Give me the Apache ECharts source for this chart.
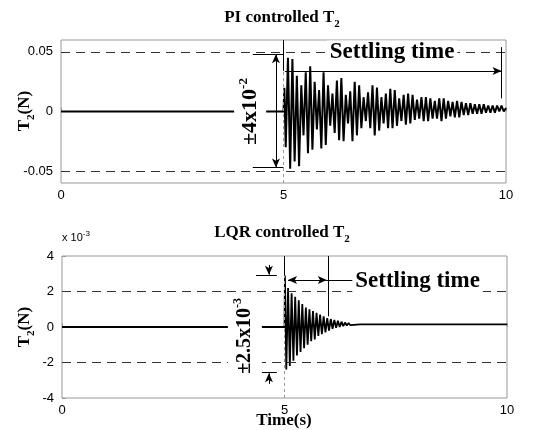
<!DOCTYPE html>
<html>
<head>
<meta charset="utf-8">
<script src="https://cdn.jsdelivr.net/npm/echarts@6/dist/echarts.min.js"></script>
</head>
<body style="margin:0;background:#fff">
<div id="container" style="width:540px;height:430px"></div>
<script>
// tick values
const xTicks = [0, 5, 10];
const piTicks = [-0.05, 0, 0.05];
const lqrTicks = [-4, -2, 0, 2, 4];

// PI controlled T2 (N), peaks
const piSignal = [
  [0, 0], [5.0, 0], [5.02, 0.020], [5.05, -0.030], [5.10, 0.045], [5.15, -0.048], [5.20, 0.044], [5.25, -0.042], [5.30, 0.030], [5.35, -0.046],
  [5.40, 0.022], [5.45, -0.020], [5.50, 0.033], [5.55, -0.035], [5.60, 0.038], [5.65, -0.032], [5.70, 0.025], [5.75, -0.015], [5.80, 0.018], [5.85, -0.031],
  [5.90, 0.033], [5.95, -0.028], [6.00, 0.022], [6.05, -0.012], [6.10, 0.015], [6.15, -0.018], [6.20, 0.026], [6.25, -0.024], [6.30, 0.028], [6.35, -0.025],
  [6.40, 0.014], [6.45, -0.010], [6.50, 0.017], [6.55, -0.025], [6.60, 0.025], [6.65, -0.020], [6.70, 0.022], [6.75, -0.014], [6.80, 0.012], [6.85, -0.008],
  [6.90, 0.016], [6.95, -0.014], [7.00, 0.022], [7.05, -0.020], [7.10, 0.020], [7.15, -0.016], [7.20, 0.012], [7.25, -0.010], [7.30, 0.015], [7.35, -0.014],
  [7.40, 0.019], [7.45, -0.014], [7.50, 0.018], [7.55, -0.012], [7.60, 0.011], [7.65, -0.008], [7.70, 0.014], [7.75, -0.011], [7.80, 0.015], [7.85, -0.010],
  [7.90, 0.014], [7.95, -0.007], [8.00, 0.010], [8.05, -0.006], [8.10, 0.012], [8.15, -0.008], [8.20, 0.012], [8.25, -0.008], [8.30, 0.011], [8.35, -0.006],
  [8.40, 0.009], [8.45, -0.006], [8.50, 0.011], [8.55, -0.008], [8.60, 0.011], [8.65, -0.006], [8.70, 0.009], [8.75, -0.004], [8.80, 0.008], [8.85, -0.005],
  [8.90, 0.009], [8.95, -0.005], [9.00, 0.008], [9.05, -0.003], [9.10, 0.007], [9.15, -0.003], [9.20, 0.007], [9.25, -0.002], [9.30, 0.006], [9.35, -0.002],
  [9.40, 0.006], [9.45, -0.002], [9.50, 0.006], [9.55, -0.001], [9.60, 0.005], [9.65, -0.001], [9.70, 0.005], [9.75, -0.001], [9.80, 0.005], [9.85, 0.000],
  [9.90, 0.005], [9.95, 0.000], [10.0, 0.003]
];

// LQR controlled T2 (x10^-3 N)
const lqrSignal = [
  [0, 0], [5.0, 0], [5.01, 2.9], [5.04, -2.4], [5.08, 2.2], [5.12, -2.2], [5.16, 1.9], [5.20, -1.9], [5.24, 1.7], [5.28, -1.6],
  [5.32, 1.5], [5.36, -1.4], [5.40, 1.3], [5.44, -1.2], [5.48, 1.1], [5.52, -1.0], [5.56, 1.0], [5.60, -0.8], [5.64, 0.9], [5.68, -0.7],
  [5.72, 0.8], [5.76, -0.5], [5.80, 0.7], [5.84, -0.4], [5.88, 0.6], [5.92, -0.3], [5.96, 0.5], [6.00, -0.2], [6.04, 0.45], [6.08, -0.1],
  [6.12, 0.4], [6.16, -0.05], [6.20, 0.35], [6.24, 0.0], [6.28, 0.3], [6.32, 0.05], [6.36, 0.25], [6.40, 0.08], [6.44, 0.22], [6.48, 0.1],
  [6.52, 0.2], [6.56, 0.12], [6.60, 0.18], [6.70, 0.15], [10.0, 0.15]
];

// annotation geometry (data units)
const piBand = 0.05;
const lqrBand = 2;
const piSettle = { start: 5.03, end: 9.9, level: 0.034 };
const lqrSettle = { start: 5.08, end: 5.95, leader: 6.57, level: 2.65, mark: 5.98 };

const serif = 'Liberation Serif';
const sans = 'Liberation Sans';

var dom = document.getElementById('container');
var myChart = echarts.init(dom, null, { renderer: 'canvas' });

function seg(a, b, s0, s1, style) {
  return [
    { coord: a, symbol: s0 || 'none', lineStyle: style },
    { coord: b, symbol: s1 || 'none' }
  ];
}
const solid = { color: '#000', width: 1, type: 'solid' };
const dashed = { color: '#333', width: 1, type: [9, 6] };
const faint = { color: '#999', width: 1, type: [3, 3] };

function yAxisOf(idx, min, max, ticks) {
  return {
    type: 'value', gridIndex: idx, min: min, max: max,
    axisLine: { show: false },
    axisTick: { show: true, inside: true, length: 4, lineStyle: { color: '#999' }, customValues: ticks },
    splitLine: { show: false },
    axisLabel: {
      customValues: ticks, margin: 8, color: '#000', fontFamily: sans, fontSize: 13,
      formatter: v => (Math.abs(v) < 1e-9 ? '0' : String(+v.toFixed(4)))
    }
  };
}
function xAxisOf(idx) {
  return {
    type: 'value', gridIndex: idx, min: 0, max: 10,
    axisLine: { show: false },
    axisTick: { show: true, inside: true, length: 4, lineStyle: { color: '#999' }, customValues: xTicks },
    splitLine: { show: false },
    axisLabel: { customValues: xTicks, margin: 6, color: '#000', fontFamily: sans, fontSize: 13 }
  };
}

option = {
  animation: false,
  grid: [
    { left: 61, right: 34, top: 40, height: 143, show: true, borderColor: '#999', borderWidth: 1 },
    { left: 62, right: 33, top: 256, height: 142, show: true, borderColor: '#999', borderWidth: 1 }
  ],
  xAxis: [xAxisOf(0), xAxisOf(1)],
  yAxis: [yAxisOf(0, -0.06, 0.06, piTicks), yAxisOf(1, -4, 4, lqrTicks)],
  series: [
    {
      type: 'line', xAxisIndex: 0, yAxisIndex: 0, data: piSignal,
      showSymbol: false, silent: true, z: 3,
      lineStyle: { color: '#000', width: 2 },
      markLine: {
        silent: true, symbolSize: [6, 9], label: { show: false }, z: 4,
        data: [
          seg([0, piBand], [10, piBand], 0, 0, dashed),
          seg([0, -piBand], [10, -piBand], 0, 0, dashed),
          seg([5, -0.06], [5, 0.06], 0, 0, faint),
          seg([4.31, 0.048], [5, 0.048], 0, 0, solid),
          seg([4.31, -0.047], [5, -0.047], 0, 0, solid),
          seg([4.83, 0.048], [4.83, -0.047], 'arrow', 'arrow', solid),
          seg([5, 0.06], [5, piSettle.level], 0, 0, solid),
          seg([piSettle.start, piSettle.level], [piSettle.end, piSettle.level], 0, 'arrow', solid),
          seg([piSettle.end, 0.054], [piSettle.end, 0.011], 0, 0, solid)
        ]
      }
    },
    {
      type: 'line', xAxisIndex: 1, yAxisIndex: 1, data: lqrSignal,
      showSymbol: false, silent: true, z: 3,
      lineStyle: { color: '#000', width: 1.8 },
      markLine: {
        silent: true, symbolSize: [6, 9], label: { show: false }, z: 4,
        data: [
          seg([0, lqrBand], [10, lqrBand], 0, 0, dashed),
          seg([0, -lqrBand], [10, -lqrBand], 0, 0, dashed),
          seg([5, -4], [5, 4], 0, 0, faint),
          seg([4.36, 2.9], [4.83, 2.9], 0, 0, solid),
          seg([4.36, -2.55], [4.83, -2.55], 0, 0, solid),
          seg([4.65, 3.5], [4.65, 2.95], 0, 'arrow', solid),
          seg([4.65, -3.2], [4.65, -2.6], 0, 'arrow', solid),
          seg([5, 4], [5, 2.9], 0, 0, solid),
          seg([lqrSettle.start, lqrSettle.level], [lqrSettle.end, lqrSettle.level], 'arrow', 'arrow', solid),
          seg([lqrSettle.end, lqrSettle.level], [lqrSettle.leader, lqrSettle.level], 0, 0, solid),
          seg([lqrSettle.mark, 4], [lqrSettle.mark, 0.6], 0, 0, solid)
        ]
      }
    }
  ]
};
myChart.setOption(option);

// text annotations placed through the axes
function px(grid, pt) { return myChart.convertToPixel({ gridIndex: grid }, pt); }
const sub = { fontFamily: serif, fontWeight: 'bold', fontSize: 11, verticalAlign: 'bottom', lineHeight: 24 };
const sup = (fs) => ({ fontFamily: serif, fontWeight: 'bold', fontSize: fs, verticalAlign: 'top', lineHeight: 26 });
function label(x, y, text, fs, rich, extra) {
  return {
    type: 'text', x: x, y: y, z: 100,
    style: Object.assign({
      text: text, fontFamily: serif, fontWeight: 'bold', fontSize: fs, fill: '#000',
      align: 'center', verticalAlign: 'middle', rich: rich || {}
    }, extra || {})
  };
}

const piTxt = px(0, [4.25, 0]);
const piSet = px(0, [7.44, piBand]);
const lqrTxt = px(1, [4.11, -0.5]);
const lqrSet = px(1, [7.99, 2.6]);
const g = [
  label(282, 18, 'PI controlled T{s|2}', 17, { s: sub }),
  label(282, 233, 'LQR controlled T{s|2}', 17, { s: sub }),
  label(284, 421, 'Time(s)', 17),
  Object.assign(label(25, 111, 'T{s|2}(N)', 17, { s: sub }), { rotation: Math.PI / 2 }),
  Object.assign(label(25, 327, 'T{s|2}(N)', 17, { s: sub }), { rotation: Math.PI / 2 }),
  Object.assign(label(piTxt[0], piTxt[1], '±4x10{p|-2}', 22, { p: sup(13) },
    { backgroundColor: '#fff', padding: [3, 2] }), { rotation: Math.PI / 2 }),
  Object.assign(label(lqrTxt[0], lqrTxt[1], '±2.5x10{p|-3}', 20, { p: sup(12) },
    { backgroundColor: '#fff', padding: [4, 2] }), { rotation: Math.PI / 2 }),
  label(piSet[0], piSet[1], 'Settling time', 23, null, { backgroundColor: '#fff', padding: [0, 3] }),
  label(lqrSet[0], lqrSet[1], 'Settling time', 23, null, { backgroundColor: '#fff', padding: [0, 3] }),
  {
    type: 'text', x: 62, y: 238, z: 100,
    style: {
      text: 'x 10{p|-3}', fontFamily: sans, fontSize: 11, fill: '#000', verticalAlign: 'middle',
      rich: { p: { fontFamily: sans, fontSize: 8, verticalAlign: 'top', lineHeight: 16 } }
    }
  }
];
myChart.setOption({ graphic: g });
</script>
</body>
</html>
